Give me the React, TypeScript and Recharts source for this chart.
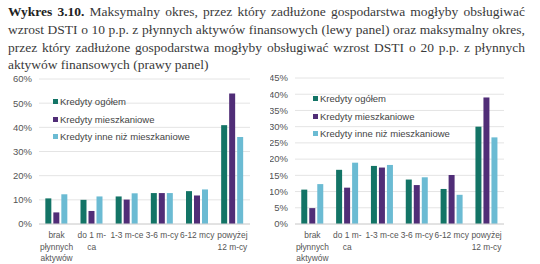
import { BarChart, Bar, XAxis, YAxis, CartesianGrid } from "recharts";

const categories = ["brak\npłynnych\naktywów", "do 1 m-\nca", "1-3 m-ce", "3-6 m-cy", "6-12 mcy", "powyżej\n12 m-cy"];

const leftOgolem = [10.6, 10.0, 11.4, 12.8, 13.6, 40.9];
const leftMieszk = [4.8, 5.4, 10.1, 12.8, 11.8, 54.0];
const leftInne = [12.3, 11.4, 12.7, 12.8, 14.3, 36.0];

const rightOgolem = [10.6, 16.7, 17.9, 13.7, 10.8, 30.0];
const rightMieszk = [4.9, 11.2, 17.4, 12.0, 15.1, 39.0];
const rightInne = [12.3, 18.9, 18.2, 14.4, 9.0, 26.7];

const leftTicks = [0, 10, 20, 30, 40, 50, 60];
const rightTicks = [0, 5, 10, 15, 20, 25, 30, 35, 40, 45];

const seriesNames = ["Kredyty ogółem", "Kredyty mieszkaniowe", "Kredyty inne niż mieszkaniowe"];
const colors = ["#137466", "#502d77", "#6bbbd3"];

const titleLines = [
  "Maksymalny okres, przez który zadłużone gospodarstwa mogłyby obsługiwać",
  "wzrost DSTI o 10 p.p. z płynnych aktywów finansowych (lewy panel) oraz maksymalny okres,",
  "przez który zadłużone gospodarstwa mogłyby obsługiwać wzrost DSTI o 20 p.p. z płynnych",
  "aktywów finansowych (prawy panel)",
];

const font = "'Liberation Sans', Arial, sans-serif";

function buildRows(a: number[], b: number[], c: number[]) {
  return categories.map((name, i) => ({ name, ogolem: a[i], mieszk: b[i], inne: c[i] }));
}

function CatTick(props: any) {
  const { x, y, payload } = props;
  const lines = String(payload.value).split("\n");
  return (
    <text x={x} y={y} textAnchor="middle" fontSize={8.4} fill="#555" fontFamily={font}>
      {lines.map((l, i) => (
        <tspan key={i} x={x} dy={i === 0 ? 12 : 11.5}>
          {l}
        </tspan>
      ))}
    </text>
  );
}

function LegendBox({ left, top }: { left: number; top: number }) {
  return (
    <div style={{ position: "absolute", left, top, fontFamily: font, fontSize: 9.5, color: "#444" }}>
      {seriesNames.map((n, i) => (
        <div key={n} style={{ display: "flex", alignItems: "center", height: 17.5, whiteSpace: "nowrap" }}>
          <span style={{ width: 5, height: 5, background: colors[i], marginRight: 2 }} />
          {n}
        </div>
      ))}
    </div>
  );
}

function Panel({ rows, ticks, max, left, width, yWidth, mRight, mTop, legendPos }: any) {
  return (
    <div style={{ position: "absolute", left, top: 70, width, height: 194 }}>
      <BarChart
        width={width}
        height={194}
        data={rows}
        margin={{ top: mTop, right: mRight, bottom: 0, left: 0 }}
        barCategoryGap="18%"
        barGap={2}
      >
        <CartesianGrid vertical={false} stroke="#e4e4e4" />
        <XAxis
          dataKey="name"
          interval={0}
          height={40}
          tick={<CatTick />}
          tickLine={false}
          tickSize={0}
          axisLine={{ stroke: "#d4d4d4" }}
        />
        <YAxis
          domain={[0, max]}
          ticks={ticks}
          interval={0}
          width={yWidth}
          tickFormatter={(v: number) => `${v}%`}
          tick={{ fontSize: 9.5, fill: "#555", fontFamily: font }}
          tickLine={false}
          tickSize={0}
          tickMargin={7}
          axisLine={false}
        />
        <Bar dataKey="ogolem" fill={colors[0]} isAnimationActive={false} />
        <Bar dataKey="mieszk" fill={colors[1]} isAnimationActive={false} />
        <Bar dataKey="inne" fill={colors[2]} isAnimationActive={false} />
      </BarChart>
      <LegendBox left={legendPos.left} top={legendPos.top} />
    </div>
  );
}

export default function App() {
  return (
    <div style={{ position: "absolute", left: 0, top: 0, width: 540, height: 264, background: "#fff", overflow: "hidden" }}>
      <div
        style={{
          position: "absolute",
          left: 8,
          top: 3,
          width: 517,
          fontFamily: "'Liberation Serif', 'Times New Roman', serif",
          fontSize: 13.5,
          lineHeight: "17.8px",
          color: "#3a3a3a",
        }}
      >
        {titleLines.map((l, i) => (
          <div
            key={i}
            style={{
              textAlign: "justify",
              textAlignLast: i < titleLines.length - 1 ? "justify" : "left",
              whiteSpace: "nowrap",
            }}
          >
            {i === 0 && <b style={{ color: "#222" }}>Wykres 3.10. </b>}
            {l}
          </div>
        ))}
      </div>
      <Panel
        rows={buildRows(leftOgolem, leftMieszk, leftInne)}
        ticks={leftTicks}
        max={60}
        left={0}
        width={265}
        yWidth={39}
        mRight={15}
        mTop={9}
        legendPos={{ top: 23, left: 53 }}
      />
      <Panel
        rows={buildRows(rightOgolem, rightMieszk, rightInne)}
        ticks={rightTicks}
        max={45}
        left={270}
        width={270}
        yWidth={25}
        mRight={36}
        mTop={8}
        legendPos={{ top: 20, left: 43 }}
      />
    </div>
  );
}
